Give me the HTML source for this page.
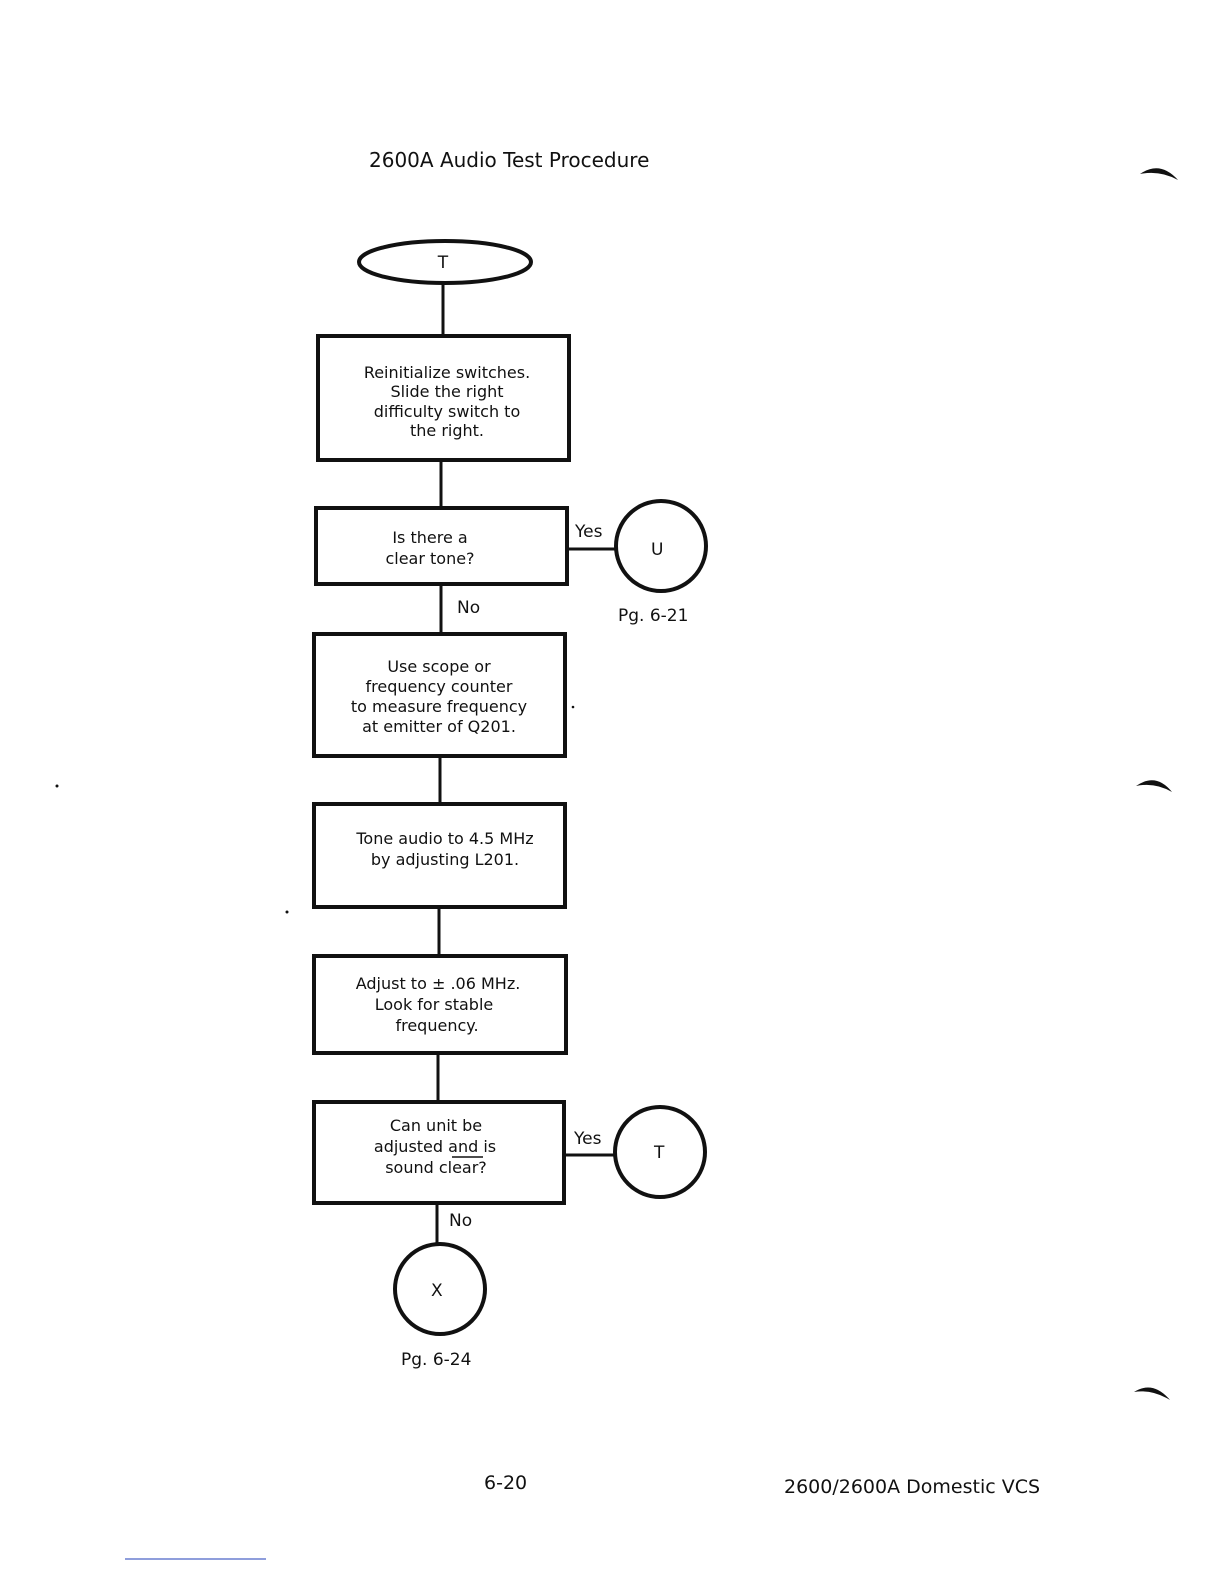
<!DOCTYPE html>
<html><head><meta charset="utf-8"><style>
html,body{margin:0;padding:0;background:#fff}
svg{display:block}
text{font-family:"DejaVu Sans","Liberation Sans",sans-serif;fill:#111}
</style></head><body>
<svg width="1224" height="1584" viewBox="0 0 1224 1584" xmlns="http://www.w3.org/2000/svg">
<text x="369" y="167" font-size="20">2600A Audio Test Procedure</text>
<g fill="none" stroke="#111">
<ellipse cx="445" cy="262" rx="86" ry="21" stroke-width="4"/>
<line x1="443" y1="283" x2="443" y2="335" stroke-width="3"/>
<rect x="318" y="336" width="251" height="124" stroke-width="4"/>
<line x1="441" y1="461" x2="441" y2="507" stroke-width="3"/>
<rect x="316" y="508" width="251" height="76" stroke-width="4"/>
<line x1="568" y1="549" x2="616" y2="549" stroke-width="3"/>
<circle cx="661" cy="546" r="45" stroke-width="4"/>
<line x1="441" y1="585" x2="441" y2="633" stroke-width="3"/>
<rect x="314" y="634" width="251" height="122" stroke-width="4"/>
<line x1="440" y1="757" x2="440" y2="803" stroke-width="3"/>
<rect x="314" y="804" width="251" height="103" stroke-width="4"/>
<line x1="439" y1="908" x2="439" y2="955" stroke-width="3"/>
<rect x="314" y="956" width="252" height="97" stroke-width="4"/>
<line x1="438" y1="1054" x2="438" y2="1101" stroke-width="3"/>
<rect x="314" y="1102" width="250" height="101" stroke-width="4"/>
<line x1="565" y1="1155" x2="614" y2="1155" stroke-width="3"/>
<circle cx="660" cy="1152" r="45" stroke-width="4"/>
<line x1="437" y1="1204" x2="437" y2="1245" stroke-width="3"/>
<circle cx="440" cy="1289" r="45" stroke-width="4"/>
</g>
<text x="443" y="268" font-size="17" text-anchor="middle">T</text>
<g font-size="16" text-anchor="middle">
<text x="447" y="378">Reinitialize switches.</text>
<text x="447" y="397">Slide the right</text>
<text x="447" y="417">difficulty switch to</text>
<text x="447" y="436">the right.</text>
<text x="430" y="543">Is there a</text>
<text x="430" y="564">clear tone?</text>
<text x="439" y="672">Use scope or</text>
<text x="439" y="692">frequency counter</text>
<text x="439" y="712">to measure frequency</text>
<text x="439" y="732">at emitter of Q201.</text>
<text x="445" y="844">Tone audio to 4.5 MHz</text>
<text x="445" y="865">by adjusting L201.</text>
<text x="438" y="989">Adjust to ± .06 MHz.</text>
<text x="434" y="1010">Look for stable</text>
<text x="437" y="1031">frequency.</text>
<text x="436" y="1131">Can unit be</text>
<text x="435" y="1152">adjusted and is</text>
<text x="436" y="1173">sound clear?</text>
</g>
<line x1="452" y1="1157" x2="483" y2="1157" stroke="#111" stroke-width="1.5"/>
<g font-size="17">
<text x="575" y="537">Yes</text>
<text x="457" y="613">No</text>
<text x="651" y="555">U</text>
<text x="618" y="621">Pg. 6-21</text>
<text x="574" y="1144">Yes</text>
<text x="654" y="1158">T</text>
<text x="449" y="1226">No</text>
<text x="431" y="1296">X</text>
<text x="401" y="1365">Pg. 6-24</text>
<text x="484" y="1489" font-size="19">6-20</text>
<text x="784" y="1493" font-size="19">2600/2600A Domestic VCS</text>
</g>
<g fill="#111">
<path d="M1140 174 Q1160 160 1178 180 Q1160 170 1140 174Z"/>
<path d="M1136 786 Q1156 772 1172 792 Q1155 782 1136 786Z"/>
<path d="M1134 1392 Q1153 1380 1170 1400 Q1152 1389 1134 1392Z"/>
<circle cx="57" cy="786" r="1.5"/>
<circle cx="287" cy="912" r="1.5"/>
<circle cx="573" cy="707" r="1.3"/>
</g>
<line x1="125" y1="1559" x2="266" y2="1559" stroke="#6a7fd0" stroke-width="1.5"/>
</svg>
</body></html>
